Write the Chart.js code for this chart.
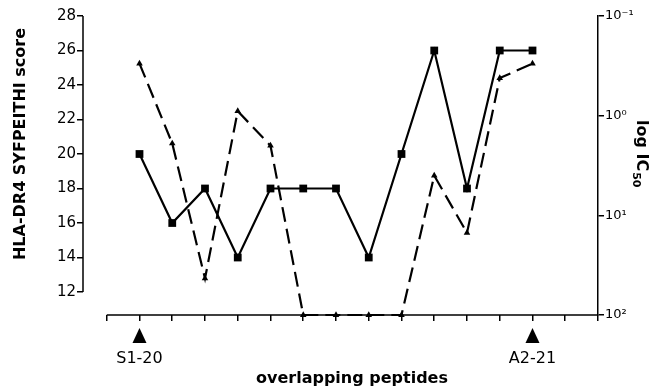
<!DOCTYPE html>
<html>
<head>
<meta charset="utf-8">
<script src="https://cdn.jsdelivr.net/npm/chart.js@4.4.1/dist/chart.umd.min.js"></script>
<style>
  html, body { margin: 0; padding: 0; background: #fff; }
  #wrap { width: 655px; height: 390px; }
</style>
</head>
<body>
<div id="wrap"><canvas id="chart1"></canvas></div>
<script>
  // overlapping peptides (positions along the axis)
  var peptides = [1, 2, 3, 4, 5, 6, 7, 8, 9, 10, 11, 12, 13];
  // HLA-DR4 SYFPEITHI score (squares, solid line)
  var syfpeithi = [20, 16, 18, 14, 18, 18, 18, 14, 20, 26, 18, 26, 26];
  // IC50 (triangles, dashed line, right log axis)
  var ic50 = [0.3, 1.9, 43, 0.9, 2.0, 100, 100, 100, 100, 4.0, 15, 0.42, 0.3];

  var scoreTicks = [12, 14, 16, 18, 20, 22, 24, 26, 28];
  var ic50Ticks = [0.1, 1, 10, 100];
  var ic50TickLabels = ["10\u207B\u00B9", "10\u2070", "10\u00B9", "10\u00B2"];
  var peptideTicks = [0, 1, 2, 3, 4, 5, 6, 7, 8, 9, 10, 11, 12, 13, 14, 15];
  var markedPeptides = [1, 13];
  var markedLabels = ["S1-20", "A2-21"];

  var fuente = "DejaVu Sans";

  // ejes recortados, flechas y titulos
  var extras = {
    id: "extras",
    afterDraw: function(chart) {
      var ctx = chart.ctx;
      var x = chart.scales.x;
      var y = chart.scales.y;
      var area = chart.chartArea;
      ctx.save();
      ctx.strokeStyle = "#000";
      ctx.lineWidth = 1.5;
      ctx.beginPath();
      ctx.moveTo(area.left, y.getPixelForValue(scoreTicks[0]));
      ctx.lineTo(area.left, y.getPixelForValue(scoreTicks[scoreTicks.length - 1]));
      ctx.moveTo(x.getPixelForValue(peptideTicks[0]), area.bottom);
      ctx.lineTo(x.getPixelForValue(peptideTicks[peptideTicks.length - 1]), area.bottom);
      ctx.stroke();

      ctx.fillStyle = "#000";
      markedPeptides.forEach(function(p) {
        var px = x.getPixelForValue(p);
        ctx.beginPath();
        ctx.moveTo(px, area.bottom + 13);
        ctx.lineTo(px + 7, area.bottom + 28);
        ctx.lineTo(px - 7, area.bottom + 28);
        ctx.closePath();
        ctx.fill();
      });

      ctx.textBaseline = "alphabetic";
      ctx.font = "bold 16px '" + fuente + "'";
      ctx.textAlign = "center";
      ctx.fillText("overlapping peptides", 352, 383);

      ctx.save();
      ctx.translate(25, 144);
      ctx.rotate(-Math.PI / 2);
      ctx.fillText("HLA-DR4 SYFPEITHI score", 0, 0);
      ctx.restore();

      ctx.save();
      ctx.translate(637, 120);
      ctx.rotate(Math.PI / 2);
      ctx.textAlign = "left";
      ctx.fillText("log IC", 0, 0);
      var w = ctx.measureText("log IC").width;
      ctx.font = "bold 11px '" + fuente + "'";
      ctx.fillText("50", w + 1, 4);
      ctx.restore();

      ctx.restore();
    }
  };

  var grafico1 = new Chart(document.getElementById("chart1"), {
    type: "line",
    data: {
      datasets: [{
        label: "SYFPEITHI",
        data: peptides.map(function(p, i) { return { x: p, y: syfpeithi[i] }; }),
        yAxisID: "y",
        borderColor: "#000",
        backgroundColor: "#000",
        borderWidth: 2.2,
        pointStyle: "rect",
        pointRadius: 5.5,
        pointBorderWidth: 0,
        tension: 0,
        clip: false
      }, {
        label: "IC50",
        data: peptides.map(function(p, i) { return { x: p, y: ic50[i] }; }),
        yAxisID: "y2",
        borderColor: "#000",
        backgroundColor: "#000",
        borderWidth: 2.2,
        borderDash: [15, 7],
        pointStyle: "triangle",
        pointRadius: 3.8,
        pointBorderWidth: 0,
        tension: 0,
        clip: false
      }]
    },
    options: {
      responsive: true,
      maintainAspectRatio: false,
      animation: false,
      events: [],
      layout: { padding: { top: 16, left: 0, right: 0, bottom: 0 } },
      plugins: {
        legend: { display: false },
        tooltip: { enabled: false }
      },
      scales: {
        x: {
          type: "linear",
          min: -0.725,
          max: 15,
          afterBuildTicks: function(scale) {
            scale.ticks = peptideTicks.map(function(v) { return { value: v }; });
          },
          afterFit: function(scale) { scale.height = 75; },
          border: { display: false },
          grid: { drawOnChartArea: false, drawTicks: true, tickLength: 6, color: "#000", lineWidth: 1.5 },
          ticks: {
            autoSkip: false,
            maxRotation: 0,
            padding: 28,
            color: "#000",
            font: { family: fuente, size: 16 },
            callback: function(v) {
              var i = markedPeptides.indexOf(v);
              return i >= 0 ? markedLabels[i] : "";
            }
          }
        },
        y: {
          position: "left",
          min: 10.667,
          max: 28,
          afterBuildTicks: function(scale) {
            scale.ticks = scoreTicks.map(function(v) { return { value: v }; });
          },
          afterFit: function(scale) { scale.width = 83; },
          border: { display: false },
          grid: { drawOnChartArea: false, drawTicks: true, tickLength: 6, color: "#000", lineWidth: 1.5 },
          ticks: {
            padding: 1,
            color: "#000",
            font: { family: fuente, size: 15 }
          }
        },
        y2: {
          type: "logarithmic",
          position: "right",
          reverse: true,
          min: 0.1,
          max: 100,
          afterBuildTicks: function(scale) {
            scale.ticks = ic50Ticks.map(function(v) { return { value: v }; });
          },
          afterFit: function(scale) { scale.width = 57; },
          border: { display: true, color: "#000", width: 1.5 },
          grid: { drawOnChartArea: false, drawTicks: true, tickLength: 6, color: "#000", lineWidth: 1.5 },
          ticks: {
            padding: 1,
            color: "#000",
            font: { family: fuente, size: 13 },
            callback: function(v) {
              var i = ic50Ticks.indexOf(v);
              return i >= 0 ? ic50TickLabels[i] : "";
            }
          }
        }
      }
    },
    plugins: [extras]
  });
</script>
</body>
</html>
